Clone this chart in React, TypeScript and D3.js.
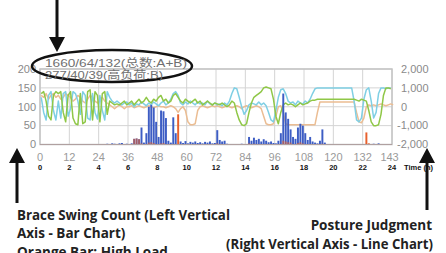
import React from "react";
import * as d3 from "d3";

// 10-minute slots over one day (0..143)
const slotCount = 144;

// brace swing count per slot (left axis, bars): total A+B
const totalCount = [
  0, 0, 0, 0, 0, 0, 0, 0, 0, 0, 0, 0, 0, 0, 0, 0, 0, 0, 0, 0, 0, 0, 0, 0,
  0, 0, 0, 2, 0, 3, 2, 0, 3, 4, 0, 2, 0, 3, 15, 16, 14, 45, 5, 30, 100, 105, 98, 60,
  20, 90, 88, 70, 10, 5, 72, 30, 0, 8, 4, 9, 3, 7, 5, 8, 4, 6, 3, 7, 5, 8, 3, 4,
  38, 12, 8, 10, 2, 0, 0, 0, 0, 0, 2, 0, 0, 20, 10, 18, 12, 15, 8, 14, 10, 6, 8, 4,
  3, 10, 30, 135, 85, 68, 40, 20, 15, 45, 55, 50, 30, 12, 20, 8, 5, 3, 10, 40, 5, 0,
  0, 0, 0, 0, 0, 0, 0, 0, 0, 0, 0, 0, 0, 0, 0, 0, 0, 0, 2, 0, 3, 0, 0, 0,
];

// high load count per slot (B)
const highLoad = [
  0, 0, 0, 0, 0, 0, 0, 0, 0, 0, 0, 0, 0, 0, 0, 0, 0, 0, 0, 0, 0, 0, 0, 0,
  0, 0, 0, 0, 0, 0, 0, 0, 0, 0, 0, 0, 0, 0, 15, 16, 14, 3, 0, 0, 5, 6, 4, 0,
  0, 3, 4, 0, 0, 0, 0, 0, 80, 0, 0, 0, 0, 0, 0, 0, 0, 0, 0, 0, 0, 0, 0, 0,
  3, 0, 0, 0, 0, 0, 0, 0, 0, 0, 0, 0, 0, 3, 0, 2, 0, 0, 0, 0, 0, 0, 0, 0,
  0, 0, 0, 10, 8, 6, 5, 0, 0, 4, 6, 3, 0, 0, 0, 0, 0, 0, 0, 2, 0, 0,
  0, 0, 0, 0, 0, 0, 0, 0, 0, 0, 0, 0, 0, 0, 0, 32, 3, 0, 0, 0, 0, 0, 0, 0, 0, 0,
];

// posture judgment (right axis, lines)
const postureGreen = [
  700, 800, 300, -500, -700, 600, 800, 700, 800, -300, -800, 600, 800, -600, -900, -950, 700, -900,
  -800, 800, 900, -700, 800, 600, -800, 700, 800, -400, 300, 200, 100, 150, 100, 200, 300, 100,
  200, 300, 100, 250, 400, 200, 300, 500, 300, 200, 400, 300, 500, 600, 300, 400, 200, 300,
  600, 700, 500, 300, 200, 400, 300, 200, 300, 400, 200, 300, 100, 200, 300, 200, 100,
  200, 150, 100, 200, 100, 0, 100, 300, 200, -300, -700, -950, -1000, -900, -300, 200, 500,
  600, 700, 800, 1000, 1050, 1000, 950, 400, -500, -900, -300, 100, 200, 100, 150, 100, 0,
  100, 200, 100, 150, 200, 300, 350, 350, 400, 400, 400, 400, 400, 400, 400, 400, 400, 400,
  400, 400, 400, 400, 400, 400, 350, 300, 400, 350, 300, -200, -800, -1000, -1000, -950, -400,
  600, 1000, 1000, 950,
];

const postureCyan = [
  500, -300, -700, 600, 800, -200, -700, 300, -600, 700, 800, -500, -100, 800, 700, 300, -400, 800,
  600, -600, -700, 700, -300, -650, 600, -200, -700, 800, 500, 300, 200, 300, 200, 100, 200, 250,
  100, 200, 0, 150, 100, 250, 150, 50, 200, 100, 250, 150, 50, 200, 300, 100, 200, 400,
  700, 800, 600, 200, 100, 250, 150, 300, 200, 100, 250, 150, 200, 100, 300, 150, 100,
  200, 100, 150, 50, 200, 100, 300, 700, 1000, 950, 500, 0, -400, -200, 100, 200, 150,
  100, 250, 100, 200, 50, -300, -700, -800, -200, 500, 900, 950, 700, 300, 200, 250, 100,
  300, 200, 150, 300, 200, 400, 700, 950, 1000, 1000, 1000, 1000, 1000, 1000, 1000, 1000, 1000, 1000,
  1000, 1000, 1000, 1000, 1000, 300, -700, -800, -600, 400, 900, 1000, 300, -600, -300, 700, 1000,
  1000, 950, 1000, 1000,
];

const postureTan = [
  600, 500, 700, 400, 600, 700, 500, 600, 400, 500, 700, 600, 500, 300, 400, 600, 500, 300,
  200, 400, 600, 500, 300, 200, 400, 500, 300, 200, 100, 0, -100, 0, 100, 0, -100, 0,
  0, 50, -50, 0, 50, 0, -50, 0, 50, 0, -50, 0, 50, 0, 0, -50, 0, 50,
  0, -100, -300, -100, 0, -200, -800, -950, -950, -900, -200, 0, 50, 0, -50, 0, 50,
  0, 50, 0, -50, 0, 50, 0, -50, 0, 50, 0, -100, 0, 50, 0, -50, 0,
  50, 0, -100, -500, -900, -950, -950, -900, -500, 0, 50, -300, -900, -950, -950, -950, -950,
  -950, -950, -950, -950, -950, -950, -950, -950, -300, 250, 250, 250, 250, 250, 250, 250, 250, 250,
  250, 250, 250, 250, 250, 250, -300, -800, -850, -600, 0, 100, 50, 100, 50, 100, 150, 100,
  50, 100, 150, 100,
];

const leftTicks = [0, 50, 100, 150, 200];
const rightTicks = [-2000, -1000, 0, 1000, 2000];
const rightTickLabels = ["-2,000", "-1,000", "0", "1,000", "2,000"];
const slotTicks = [0, 12, 24, 36, 48, 60, 72, 84, 96, 108, 120, 132, 143];
const hourTicks = [0, 2, 4, 6, 8, 10, 12, 14, 16, 18, 20, 22, 24];

const W = 446;
const H = 253;

const x = d3.scaleLinear().domain([0, slotCount]).range([40, 392]);
const yL = d3.scaleLinear().domain([0, 200]).range([144.5, 69]);
const yR = d3.scaleLinear().domain([-2000, 2000]).range([144.5, 69]);

const lineGen = d3
  .line<number>()
  .x((_, i) => x(i + 0.5))
  .y((d) => yR(d))
  .curve(d3.curveLinear);

const tickFont = "'Liberation Sans', Arial, sans-serif";
const labelFont = "'Open Sans', 'Liberation Sans', sans-serif";

const Arrow: React.FC<{ x: number; tip: number; tail: number; up?: boolean }> = ({
  x: ax,
  tip,
  tail,
  up,
}) => {
  const dir = up ? 1 : -1;
  const headLen = 15;
  const half = 8;
  return (
    <g fill="#111" stroke="#111">
      <line x1={ax} x2={ax} y1={tail} y2={tip + dir * headLen} strokeWidth={3} />
      <path
        d={`M${ax},${tip} L${ax - half},${tip + dir * headLen} L${ax + half},${tip + dir * headLen} Z`}
        stroke="none"
      />
    </g>
  );
};

export default function App() {
  const bw = x(1) - x(0);
  return (
    <div style={{ position: "absolute", left: 0, top: 0 }}>
      <svg width={W} height={H} viewBox={`0 0 ${W} ${H}`} style={{ display: "block", background: "#fff" }}>
        {/* grid */}
        <g stroke="#d4d4d4" strokeWidth={1}>
          {leftTicks.map((t) => (
            <line key={"h" + t} x1={x(0)} x2={x(slotCount)} y1={yL(t)} y2={yL(t)} />
          ))}
          {d3.range(0, slotCount + 1, 12).map((t) => (
            <line key={"v" + t} x1={x(t)} x2={x(t)} y1={yL(200)} y2={yL(0)} />
          ))}
        </g>
        <rect
          x={x(0)}
          y={yL(200)}
          width={x(slotCount) - x(0)}
          height={yL(0) - yL(200)}
          fill="none"
          stroke="#c4c4c4"
          strokeWidth={1.5}
        />

        {/* posture lines */}
        <g fill="none" strokeWidth={1.5} strokeLinejoin="round">
          <path d={lineGen(postureTan) ?? ""} stroke="#ebbd93" />
          <path d={lineGen(postureCyan) ?? ""} stroke="#7fcfe4" />
          <path d={lineGen(postureGreen) ?? ""} stroke="#8fc747" />
        </g>

        {/* bars */}
        <g>
          {totalCount.map((v, i) =>
            v > 0 ? (
              <rect
                key={"b" + i}
                x={x(i) + 0.3}
                y={yL(v)}
                width={bw - 0.5}
                height={yL(0) - yL(v)}
                fill="#3d5dc4"
              />
            ) : null
          )}
          {highLoad.map((v, i) =>
            v > 0 ? (
              <rect
                key={"o" + i}
                x={x(i) + 0.3}
                y={yL(v)}
                width={bw - 0.5}
                height={yL(0) - yL(v)}
                fill="#e8602c"
                fillOpacity={totalCount[i] > 0 ? 0.6 : 1}
              />
            ) : null
          )}
        </g>
        <line x1={x(0)} x2={x(slotCount)} y1={yL(0)} y2={yL(0)} stroke="#b0a0a0" strokeWidth={1} />

        {/* left axis */}
        <g fontFamily={tickFont} fontSize={11} fill="#8a8a8a" textAnchor="end">
          {leftTicks.map((t) => (
            <text key={t} x={36} y={yL(t)} dy="0.35em">
              {t}
            </text>
          ))}
        </g>
        {/* right axis */}
        <g fontFamily={tickFont} fontSize={11} fill="#8a8a8a" textAnchor="start">
          {rightTicks.map((t, i) => (
            <text key={t} x={t < 0 ? 397 : 401} y={yR(t)} dy="0.35em">
              {rightTickLabels[i]}
            </text>
          ))}
        </g>
        {/* bottom axis: slots */}
        <g fontFamily={tickFont} fontSize={11} fill="#9a9a9a" textAnchor="middle">
          {slotTicks.map((t) => (
            <text key={t} x={x(t)} y={161}>
              {t}
            </text>
          ))}
        </g>
        {/* bottom axis: hours */}
        <g fontFamily={tickFont} fontSize={7.5} fontWeight={700} fill="#111" textAnchor="middle">
          {hourTicks.map((h, i) => (
            <text key={h} x={x(i * 12)} y={170}>
              {h}
            </text>
          ))}
          <text x={404} y={170} textAnchor="start">
            Time (h)
          </text>
        </g>

        {/* summary annotation */}
        <ellipse cx={112} cy={66} rx={80} ry={16} fill="none" stroke="#111" strokeWidth={2.5} />
        <g fontFamily={`${tickFont}, 'Noto Sans CJK SC'`} fontSize={11} fill="#707070">
          <text x={45} y={67} textLength={142} lengthAdjust="spacingAndGlyphs">
            1660/64/132(总数:A+B)
          </text>
          <text x={45} y={79} textLength={118} lengthAdjust="spacingAndGlyphs">
            277/40/39(高负荷:B)
          </text>
        </g>

        {/* arrows */}
        <Arrow x={57} tip={52} tail={0} />
        <Arrow x={17} tip={148} tail={203} up />
        <Arrow x={427} tip={148} tail={210} up />

        {/* captions */}
        <g fontFamily={labelFont} fontSize={13.5} fontWeight={700} fill="#222">
          <text x={17} y={220} textLength={213} lengthAdjust="spacingAndGlyphs">
            Brace Swing Count (Left Vertical
          </text>
          <text x={17} y={238}>
            Axis - Bar Chart)
          </text>
          <text x={17} y={257}>
            Orange Bar: High Load
          </text>
          <text x={432} y={230} textAnchor="end">
            Posture Judgment
          </text>
          <text x={433} y={249} textAnchor="end" textLength={207} lengthAdjust="spacingAndGlyphs">
            (Right Vertical Axis - Line Chart)
          </text>
        </g>
      </svg>
    </div>
  );
}
